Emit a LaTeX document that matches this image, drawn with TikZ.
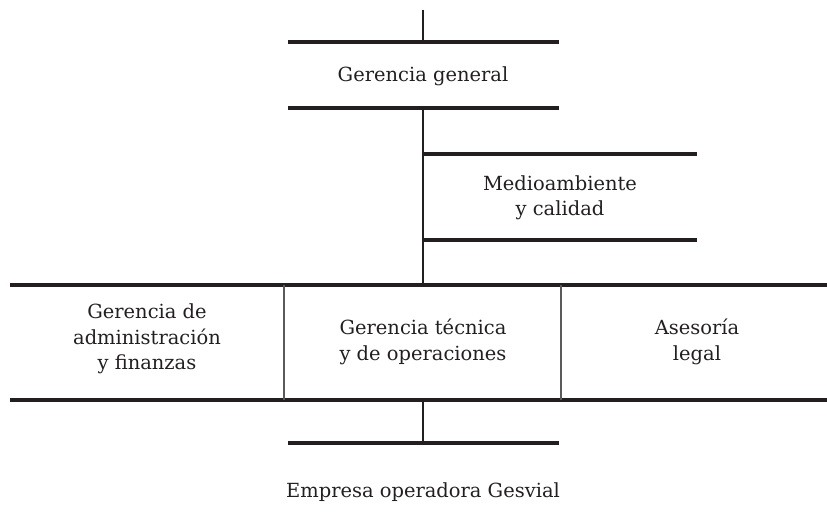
\documentclass[tikz,border=0pt]{standalone}
\usepackage{fontspec}
\setmainfont{DejaVu Serif}
\definecolor{ink}{RGB}{35,31,32}
\definecolor{rule}{RGB}{90,90,90}
\begin{document}
\begin{tikzpicture}[x=0.75pt,y=-0.75pt,
  thickrule/.style={draw=ink,line width=2.4pt},
  thinrule/.style={draw=ink,line width=0.8pt},
  divider/.style={draw=rule,line width=0.8pt},
  label/.style={text=ink,align=center,inner sep=0pt,
    font=\fontsize{14.6}{19.1}\selectfont}]
\useasboundingbox (0,0) rectangle (827,530);
% top
\coordinate (top) at (423,10);
\coordinate (gg-t) at (423,42);
\coordinate (gg-b) at (423,108);
\draw[thickrule] (288,42) -- (559,42);
\draw[thickrule] (288,108) -- (559,108);
\node[label] (gg) at (423,76) {Gerencia general};
\draw[thinrule] (top) -- (gg-t);
% medioambiente
\draw[thickrule] (423,154) -- (697,154);
\draw[thickrule] (423,240) -- (697,240);
\node[label] (ma) at (560,198) {Medioambiente\\y calidad};
% row
\coordinate (row-t) at (423,285);
\coordinate (row-b) at (423,400);
\draw[thinrule] (gg-b) -- (row-t);
\draw[thickrule] (10,285) -- (827,285);
\draw[thickrule] (10,400) -- (827,400);
\draw[divider] (284,285) -- (284,400);
\draw[divider] (561,285) -- (561,400);
\node[label] (ga) at (147,339) {Gerencia de\\administración\\y finanzas};
\node[label] (gt) at (423,342) {Gerencia técnica\\y de operaciones};
\node[label] (al) at (697,342) {Asesoría\\legal};
% bottom
\coordinate (emp-t) at (423,443);
\draw[thinrule] (row-b) -- (emp-t);
\draw[thickrule] (288,443) -- (559,443);
\node[label] (emp) at (423,492) {Empresa operadora Gesvial};
\end{tikzpicture}
\end{document}
